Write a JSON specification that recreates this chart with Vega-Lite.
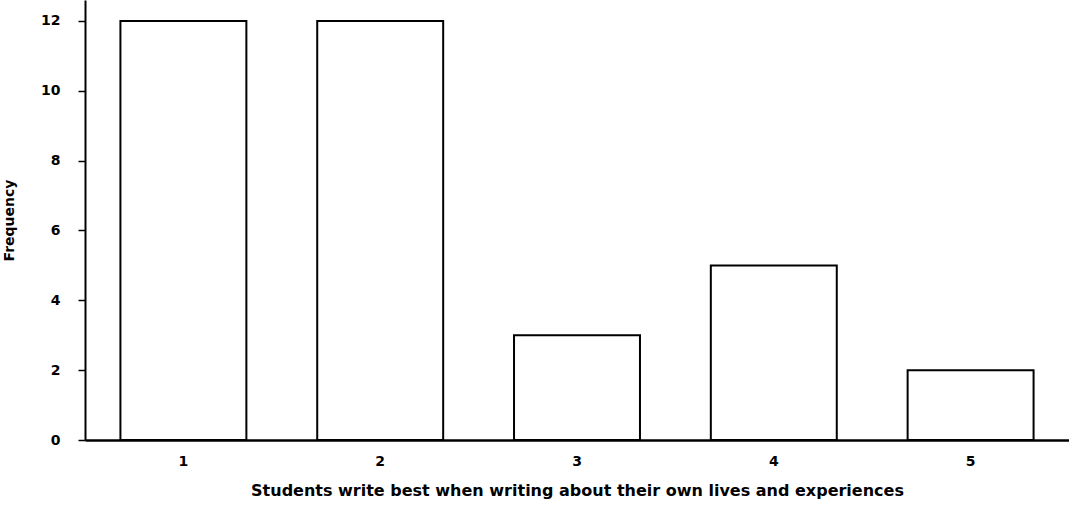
{
  "$schema": "https://vega.github.io/schema/vega-lite/v6.json",
  "width": 984,
  "height": 440,
  "autosize": {"type": "none"},
  "padding": {"left": 85, "top": 0, "right": 0, "bottom": 87},
  "background": "white",
  "data": {"values": [
    {"rating": "1", "frequency": 12},
    {"rating": "2", "frequency": 12},
    {"rating": "3", "frequency": 3},
    {"rating": "4", "frequency": 5},
    {"rating": "5", "frequency": 2}
  ]},
  "mark": {"type": "bar", "fill": "white", "stroke": "black", "strokeWidth": 2},
  "encoding": {
    "x": {
      "field": "rating", "type": "ordinal",
      "scale": {"paddingInner": 0.36, "paddingOuter": 0.18},
      "axis": {
        "title": "Students write best when writing about their own lives and experiences",
        "labelAngle": 0, "ticks": false, "domainColor": "black", "domainWidth": 2.5,
        "labelPadding": 14, "labelFont": "DejaVu Sans", "labelFontWeight": "bold", "labelFontSize": 14, "labelColor": "black",
        "titleFont": "DejaVu Sans", "titleFontWeight": "bold", "titleFontSize": 16, "titleColor": "black", "titlePadding": 14
      }
    },
    "y": {
      "field": "frequency", "type": "quantitative",
      "scale": {"domain": [0, 12.6], "nice": false},
      "axis": {
        "title": "Frequency", "values": [0, 2, 4, 6, 8, 10, 12], "grid": false,
        "domainColor": "black", "domainWidth": 2, "tickColor": "black", "tickSize": 7, "tickWidth": 1.5, "tickOffset": 0,
        "labelPadding": 18, "labelFont": "DejaVu Sans", "labelFontWeight": "bold", "labelFontSize": 14, "labelColor": "black",
        "titleFont": "DejaVu Sans", "titleFontWeight": "bold", "titleFontSize": 14, "titleColor": "black", "titlePadding": 24
      }
    }
  },
  "config": {"view": {"stroke": null}}
}
